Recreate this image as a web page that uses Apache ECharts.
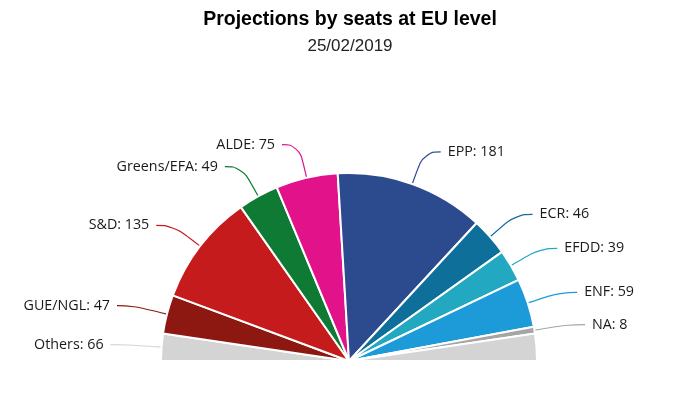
<!DOCTYPE html>
<html>
<head>
<meta charset="utf-8">
<script src="https://cdn.jsdelivr.net/npm/echarts@6/dist/echarts.min.js"></script>
<style>
  html, body { margin: 0; padding: 0; background: #fff; }
  #main { width: 700px; height: 420px; }
</style>
</head>
<body>
<div id="main"></div>
<script>
// groups from left to right round the half circle
var parties = ['Others', 'GUE/NGL', 'S&D', 'Greens/EFA', 'ALDE', 'EPP', 'ECR', 'EFDD', 'ENF', 'NA'];
var seats = [66, 47, 135, 49, 75, 181, 46, 39, 59, 8];
var colors = ['#d4d4d4', '#8c1811', '#c51b1c', '#0f7a33', '#e1128a', '#2c4a8e', '#0e6f9b', '#22a9c1', '#1d9bd9', '#a5a5a5'];

var myChart = echarts.init(document.getElementById('main'));

// "Others" sits on both ends of the arc, half on each side
var data = [];
for (var i = 0; i < parties.length; i++) {
	var v = parties[i] === 'Others' ? seats[i] / 2 : seats[i];
	data.push({
		name: parties[i],
		value: v,
		seats: seats[i],
		itemStyle: { color: colors[i] }
	});
}
data.push({
	name: 'Others ',
	value: seats[0] / 2,
	itemStyle: { color: colors[0] },
	label: { show: false },
	labelLine: { show: false },
	tooltip: { show: false }
});

var option = {
	title: {
		text: 'Projections by seats at EU level',
		subtext: '25/02/2019',
		left: 'center',
		top: 5,
		itemGap: 8,
		textStyle: { fontFamily: 'Liberation Sans', fontSize: 19.5, fontWeight: 'bold', color: '#000' },
		subtextStyle: { fontFamily: 'Liberation Sans', fontSize: 17, color: '#222' }
	},
	series: [{
		type: 'pie',
		center: [349, 361],
		radius: [0, 188],
		startAngle: 180,
		endAngle: 0,
		clockwise: true,
		avoidLabelOverlap: false,
		animation: false,
		data: data,
		itemStyle: {
			borderColor: '#ffffff',
			borderWidth: 2
		},
		label: {
			show: true,
			fontFamily: 'Open Sans',
			fontSize: 14.3,
			color: '#1a1a1a',
			distanceToLabelLine: 7,
			formatter: function (p) {
				return p.data.name + ': ' + p.data.seats;
			}
		},
		labelLine: {
			show: true,
			length: 34,
			length2: 17,
			smooth: 0.5,
			lineStyle: { width: 1.2 }
		}
	}]
};
myChart.setOption(option);
</script>
</body>
</html>
